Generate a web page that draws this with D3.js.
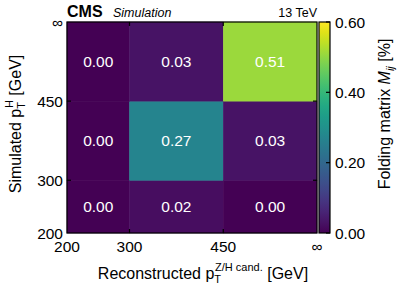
<!DOCTYPE html>
<html>
<head>
<meta charset="utf-8">
<script src="https://cdn.jsdelivr.net/npm/d3@7"></script>
<style>
body { margin: 0; background: #fff; }
text { font-family: "Liberation Sans", Arial, sans-serif; fill: #000; }
</style>
</head>
<body>
<div id="chart"></div>
<script>
// bin edges (600 stands for infinity)
var recoEdges = [200, 300, 450, 600];
var simEdges = [200, 300, 450, 600];
var edgeLabels = ["200", "300", "450", "\u221e"];
// folding matrix values, rows = simulated bin, cols = reconstructed bin
var row200 = [0.00, 0.02, 0.00];
var row300 = [0.00, 0.27, 0.03];
var row450 = [0.00, 0.03, 0.51];
var cbTicks = [0, 0.2, 0.4, 0.6];

var rows = [row200, row300, row450];
var cells = [];
rows.forEach(function(r, i) {
    r.forEach(function(v, j) {
        cells.push({x0: recoEdges[j], x1: recoEdges[j+1], y0: simEdges[i], y1: simEdges[i+1], v: v});
    });
});

var W = 399, H = 289;
var x = d3.scaleLinear().domain([200, 600]).range([67, 317]);
var y = d3.scaleLinear().domain([200, 600]).range([233, 22]);
var c = d3.scaleLinear().domain([0, 0.6]).range([233, 22]);
var color = function(v) { return d3.interpolateViridis(v / 0.6); };

var svg = d3.select("#chart").append("svg")
    .attr("width", W)
    .attr("height", H);

svg.selectAll("rect.cell").data(cells).enter()
    .append("rect")
    .attr("class", "cell")
    .attr("x", d => x(d.x0))
    .attr("y", d => y(d.y1))
    .attr("width", d => x(d.x1) - x(d.x0))
    .attr("height", d => y(d.y0) - y(d.y1))
    .attr("fill", d => color(d.v))
    .attr("stroke", d => color(d.v))
    .attr("stroke-width", 0.5);

svg.selectAll("text.val").data(cells).enter()
    .append("text")
    .attr("class", "val")
    .attr("x", d => (x(d.x0) + x(d.x1)) / 2)
    .attr("y", d => (y(d.y0) + y(d.y1)) / 2 + 5.5)
    .attr("text-anchor", "middle")
    .style("fill", "#fff")
    .style("font-size", "15.5px")
    .text(d => d.v.toFixed(2));

// frame
svg.append("rect")
    .attr("x", 67).attr("y", 22)
    .attr("width", 250).attr("height", 211)
    .attr("fill", "none").attr("stroke", "#000").attr("stroke-width", 1.2);

// inner ticks on all four sides
var inner = [300, 450];
var tk = svg.append("g").attr("stroke", "#000").attr("stroke-width", 1.2);
inner.forEach(function(t) {
    tk.append("line").attr("x1", x(t)).attr("x2", x(t)).attr("y1", 233).attr("y2", 229);
    tk.append("line").attr("x1", x(t)).attr("x2", x(t)).attr("y1", 22).attr("y2", 26);
    tk.append("line").attr("y1", y(t)).attr("y2", y(t)).attr("x1", 67).attr("x2", 71);
    tk.append("line").attr("y1", y(t)).attr("y2", y(t)).attr("x1", 317).attr("x2", 313);
});

// tick labels
svg.selectAll("text.xt").data(recoEdges).enter()
    .append("text")
    .attr("class", "xt")
    .attr("x", d => x(d))
    .attr("y", 252)
    .attr("text-anchor", "middle")
    .style("font-size", "15.5px")
    .text((d, i) => edgeLabels[i]);

svg.selectAll("text.yt").data(simEdges).enter()
    .append("text")
    .attr("class", "yt")
    .attr("x", 63)
    .attr("y", d => y(d) + 5.5)
    .attr("text-anchor", "end")
    .style("font-size", "15.5px")
    .text((d, i) => edgeLabels[i]);

// axis titles
var xl = svg.append("text")
    .attr("x", 203).attr("y", 279)
    .attr("text-anchor", "middle")
    .style("font-size", "16px");
xl.append("tspan").text("Reconstructed p");
xl.append("tspan").attr("dy", 4).style("font-size", "11px").text("T");
xl.append("tspan").attr("dx", -6).attr("dy", -12).style("font-size", "11px").text("Z/H cand.");
xl.append("tspan").attr("dy", 8).text(" [GeV]");

var yl = svg.append("text")
    .attr("transform", "translate(21,124) rotate(-90)")
    .attr("text-anchor", "middle")
    .style("font-size", "16px");
yl.append("tspan").text("Simulated p");
yl.append("tspan").attr("dy", 4).style("font-size", "11px").text("T");
yl.append("tspan").attr("dx", -6).attr("dy", -12).style("font-size", "11px").text("H");
yl.append("tspan").attr("dy", 8).text(" [GeV]");

// header
svg.append("text").attr("x", 67).attr("y", 17)
    .style("font-size", "16px").style("font-weight", "bold").text("CMS");
svg.append("text").attr("x", 113).attr("y", 17)
    .style("font-size", "12.5px").style("font-style", "italic").text("Simulation");
svg.append("text").attr("x", 317).attr("y", 17)
    .attr("text-anchor", "end")
    .style("font-size", "12.5px").text("13 TeV");

// colour bar
var defs = svg.append("defs");
var grad = defs.append("linearGradient").attr("id", "vir")
    .attr("x1", 0).attr("y1", 1).attr("x2", 0).attr("y2", 0);
d3.range(0, 1.0001, 0.05).forEach(function(t) {
    grad.append("stop").attr("offset", t).attr("stop-color", d3.interpolateViridis(t));
});
svg.append("rect")
    .attr("x", 319).attr("y", 22)
    .attr("width", 11).attr("height", 211)
    .attr("fill", "url(#vir)")
    .attr("stroke", "#000").attr("stroke-width", 1.2);

svg.selectAll("line.cbt").data(cbTicks).enter()
    .append("line")
    .attr("class", "cbt")
    .attr("x1", 330).attr("x2", 326)
    .attr("y1", d => c(d)).attr("y2", d => c(d))
    .attr("stroke", "#000").attr("stroke-width", 1.2);

svg.selectAll("text.cbl").data(cbTicks).enter()
    .append("text")
    .attr("class", "cbl")
    .attr("x", 335)
    .attr("y", d => c(d) + 5.5)
    .style("font-size", "15.5px")
    .text(d => d.toFixed(2));

var cl = svg.append("text")
    .attr("transform", "translate(390,114) rotate(-90)")
    .attr("text-anchor", "middle")
    .style("font-size", "16px");
cl.append("tspan").text("Folding matrix ");
cl.append("tspan").style("font-style", "italic").text("M");
cl.append("tspan").attr("dy", 4).style("font-size", "11px").style("font-style", "italic").text("ij");
cl.append("tspan").attr("dy", -4).text(" [%]");
</script>
</body>
</html>
